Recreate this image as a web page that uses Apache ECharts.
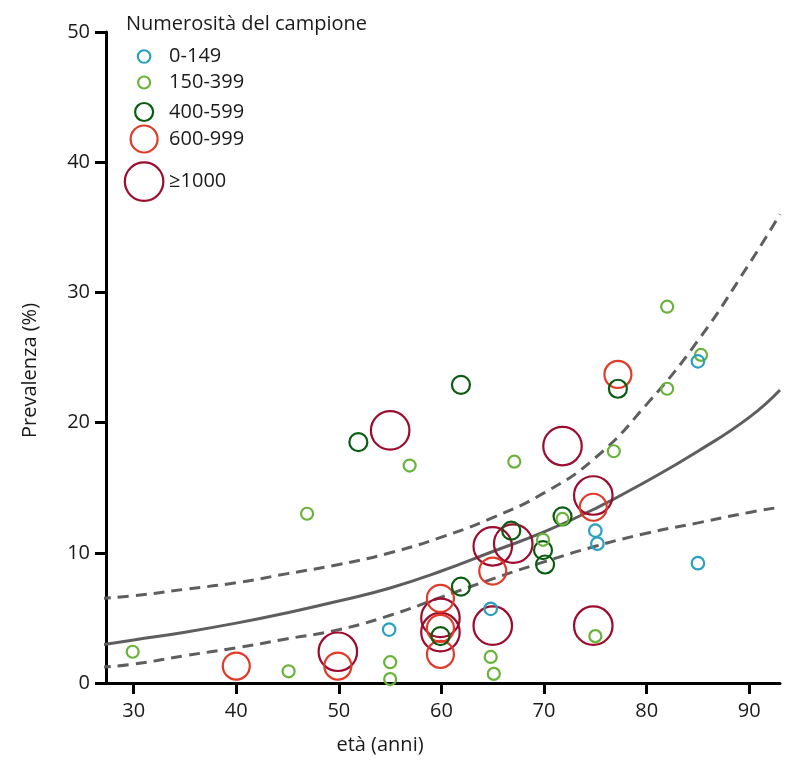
<!DOCTYPE html>
<html>
<head>
<meta charset="utf-8">
<script src="https://cdn.jsdelivr.net/npm/echarts@6/dist/echarts.min.js"></script>
<style>
  html, body { margin: 0; padding: 0; background: #fff; }
  #chart { width: 785px; height: 760px; }
</style>
</head>
<body>
<div id="chart"></div>
<script>
// classi di numerosità del campione
const sizeClasses = ['0-149', '150-399', '400-599', '600-999', '≥1000'];

// [età, prevalenza %] per classe
const pts0_149 = [[54.9, 4.1], [64.8, 5.7], [75.0, 11.7], [75.2, 10.7], [85.0, 24.7], [85.0, 9.2]];
const pts150_399 = [[29.9, 2.4], [45.1, 0.9], [46.9, 13.0], [55.0, 1.6], [55.0, 0.3], [56.9, 16.7],
  [64.8, 2.0], [65.1, 0.7], [67.1, 17.0], [69.9, 11.0], [71.8, 12.6], [75.0, 3.6],
  [76.8, 17.8], [82.0, 28.9], [82.0, 22.6], [85.3, 25.2]];
const pts400_599 = [[51.9, 18.5], [59.9, 3.6], [61.9, 7.4], [61.9, 22.9], [66.8, 11.7],
  [69.9, 10.2], [70.1, 9.1], [71.8, 12.8], [77.2, 22.6]];
const pts600_999 = [[40.0, 1.3], [49.9, 1.3], [59.9, 6.5], [59.9, 4.2], [59.9, 2.2],
  [65.0, 8.6], [74.8, 13.5], [77.2, 23.7]];
const pts1000 = [[49.9, 2.4], [55.0, 19.4], [59.9, 5.0], [59.9, 3.9], [65.0, 10.5],
  [65.0, 4.4], [67.0, 10.7], [71.8, 18.2], [74.8, 14.4], [74.8, 4.4]];

// curva stimata e limiti
const curveAge = [26.7, 30, 35, 40, 45, 50, 55, 60, 65, 70, 75, 80, 85, 90, 93];
const fitMid  = [2.9, 3.3, 3.9, 4.6, 5.4, 6.3, 7.3, 8.6, 10.1, 11.6, 13.4, 15.5, 17.8, 20.4, 22.5];
const fitLow  = [1.2, 1.45, 2.1, 2.7, 3.4, 4.1, 5.2, 6.6, 8.0, 9.3, 10.5, 11.5, 12.3, 13.1, 13.5];
const fitHigh = [6.5, 6.7, 7.2, 7.7, 8.4, 9.1, 10.0, 11.2, 12.7, 14.6, 17.3, 21.4, 26.3, 32.2, 36.0];

const xTicks = [30, 40, 50, 60, 70, 80, 90];

const classPoints = [pts0_149, pts150_399, pts400_599, pts600_999, pts1000];
const classColors = ['#2aa0c0', '#6ab23a', '#0a5c12', '#e03a28', '#9c0c2e'];
const classSizes = [12.5, 12, 18, 27, 38.5];
const legendIconY = [56.5, 82.5, 112, 139, 180.5];
const legendTextDrop = [0, 5, 5, 9, 0];

const font = '"Open Sans", Lato, sans-serif';
const txt = '#1a1a1a';

let chart = echarts.init(document.getElementById('chart'));

const pair = (xs, ys) => xs.map((x, i) => [x, ys[i]]);

let series = [];
// i più grandi sotto, i piccoli sopra
for (let i = sizeClasses.length - 1; i >= 0; i--) {
  series.push({
    name: sizeClasses[i],
    type: 'scatter',
    symbol: 'circle',
    symbolSize: classSizes[i],
    data: classPoints[i],
    itemStyle: { color: 'rgba(0,0,0,0)', borderColor: classColors[i], borderWidth: 2.2, opacity: 1 },
    emphasis: { disabled: true },
    z: 3
  });
}
series.push({
  type: 'line', data: pair(curveAge, fitMid), smooth: true, symbol: 'none', clip: false,
  lineStyle: { color: '#5e5e5e', width: 3 }, z: 2, silent: true
});
series.push({
  type: 'line', data: pair(curveAge, fitLow), smooth: true, symbol: 'none', clip: false,
  lineStyle: { color: '#5e5e5e', width: 3, type: [11, 7] }, z: 2, silent: true
});
series.push({
  type: 'line', data: pair(curveAge, fitHigh), smooth: true, symbol: 'none', clip: false,
  lineStyle: { color: '#5e5e5e', width: 3, type: [11, 7] }, z: 2, silent: true
});

// una legenda per classe, così ogni cerchio ha la sua misura
let legends = sizeClasses.map((name, i) => {
  let h = classSizes[i], d = legendTextDrop[i];
  return {
    data: [{ name: name, icon: 'circle',
      itemStyle: { color: 'rgba(0,0,0,0)', borderColor: classColors[i], borderWidth: 2.2, opacity: 1 } }],
    left: 143 - h / 2,
    top: legendIconY[i] - h / 2 + Math.min(0, h / 2 - 10 - d),
    padding: 0,
    itemWidth: 40,
    itemHeight: h,
    selectedMode: false,
    textStyle: { fontFamily: font, fontSize: 20, color: txt, lineHeight: 20, padding: [2 * d, 0, 0, 0] }
  };
});

let option = {
  animation: false,
  title: {
    text: 'Numerosità del campione',
    left: 126, top: 14, padding: 0,
    textStyle: { fontFamily: font, fontSize: 20, fontWeight: 'normal', color: txt }
  },
  legend: legends,
  grid: { left: 106, right: 5, top: 32, bottom: 77, containLabel: false },
  xAxis: {
    type: 'value',
    min: 27.3, max: 93,
    name: 'età (anni)',
    nameLocation: 'middle',
    nameGap: 52,
    nameTextStyle: { fontFamily: font, fontSize: 20, color: txt, padding: [0, 126, 0, 0] },
    axisLine: { show: true, lineStyle: { color: '#000', width: 3 } },
    axisTick: { show: true, inside: false, length: 11, lineStyle: { color: '#000', width: 3 }, customValues: xTicks },
    axisLabel: { margin: 18, fontFamily: font, fontSize: 20, color: txt, customValues: xTicks },
    splitLine: { show: false }
  },
  yAxis: {
    type: 'value',
    min: 0, max: 50, interval: 10,
    name: 'Prevalenza (%)',
    nameLocation: 'middle',
    nameGap: 66,
    nameRotate: 90,
    nameTextStyle: { fontFamily: font, fontSize: 20, color: txt, padding: [0, 26, 0, 0] },
    axisLine: { show: true, onZero: false, lineStyle: { color: '#000', width: 3 } },
    axisTick: { show: true, inside: false, length: 11, lineStyle: { color: '#000', width: 3 } },
    axisLabel: { margin: 16, fontFamily: font, fontSize: 20, color: txt },
    splitLine: { show: false }
  },
  series: series
};

chart.setOption(option);
</script>
</body>
</html>
